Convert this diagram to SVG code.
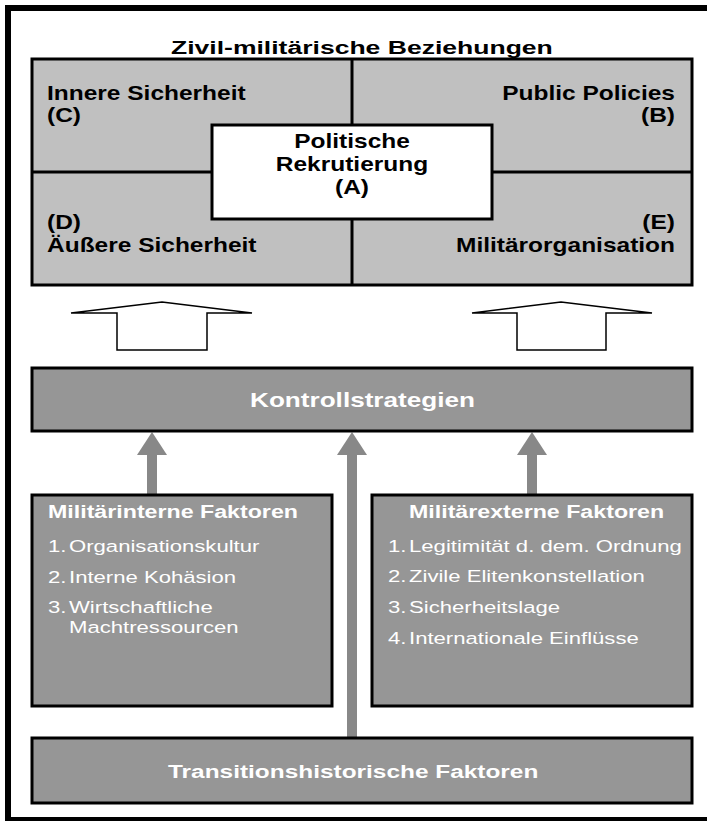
<svg xmlns="http://www.w3.org/2000/svg" width="707" height="821" viewBox="0 0 707 821">
<style>
.b{font-family:"Liberation Sans",Arial,sans-serif;font-weight:bold;}
.r{font-family:"Liberation Sans",Arial,sans-serif;font-weight:normal;font-size:16.5px;}
.q{font-size:19.5px;}
.h{font-size:18px;}
.blk{fill:#000;}
.wht{fill:#fff;}
.box{stroke:#000;stroke-width:3;}
.light{fill:#c0c0c0;}
.dark{fill:#969696;}
.open{fill:#fff;stroke:#000;stroke-width:1.5;stroke-linejoin:miter;}
.solid{fill:#888;}
</style>
<rect width="707" height="821" fill="#fff"/>
<rect id="frame" x="8" y="8" width="712" height="812" fill="none" stroke="#000" stroke-width="6"/>

<g id="title">
<text class="b blk" font-size="18.6" transform="matrix(1.427 0 0 1 171 54)">Zivil-militärische Beziehungen</text>
</g>

<g id="quad">
<rect class="box light" x="32" y="59" width="660" height="226"/>
<line x1="352" y1="59" x2="352" y2="285" stroke="#000" stroke-width="3"/>
<line x1="32" y1="172" x2="692" y2="172" stroke="#000" stroke-width="3"/>
<text class="b q blk" transform="matrix(1.256 0 0 1 47 100)">Innere Sicherheit</text>
<text class="b q blk" transform="matrix(1.256 0 0 1 47 122)">(C)</text>
<text class="b q blk" text-anchor="end" transform="matrix(1.256 0 0 1 675 100)">Public Policies</text>
<text class="b q blk" text-anchor="end" transform="matrix(1.256 0 0 1 675 122)">(B)</text>
<text class="b q blk" transform="matrix(1.256 0 0 1 47 229)">(D)</text>
<text class="b q blk" transform="matrix(1.256 0 0 1 47 252)">Äußere Sicherheit</text>
<text class="b q blk" text-anchor="end" transform="matrix(1.256 0 0 1 675 229)">(E)</text>
<text class="b q blk" text-anchor="end" transform="matrix(1.256 0 0 1 675 252)">Militärorganisation</text>
</g>

<g id="center">
<rect class="box" fill="#fff" x="212" y="125" width="280" height="94"/>
<text class="b q blk" text-anchor="middle" transform="matrix(1.256 0 0 1 352 148)">Politische</text>
<text class="b q blk" text-anchor="middle" transform="matrix(1.256 0 0 1 352 171)">Rekrutierung</text>
<text class="b q blk" text-anchor="middle" transform="matrix(1.256 0 0 1 352 194)">(A)</text>
</g>

<g id="connectors">
<polygon class="open" points="117,350 117,313 71,313 162,302 252,313 207,313 207,350"/>
<polygon class="open" points="517,350 517,313 472,313 561,302 652,313 606,313 606,350"/>
<rect class="solid" x="147" y="454" width="10" height="41"/>
<polygon class="solid" points="152,432 137,455 167,455"/>
<rect class="solid" x="347" y="454" width="10" height="283"/>
<polygon class="solid" points="352,432 337,455 367,455"/>
<rect class="solid" x="527" y="454" width="10" height="41"/>
<polygon class="solid" points="532,432 517,455 547,455"/>
</g>

<g id="kontroll">
<rect class="box dark" x="32" y="368" width="660" height="63"/>
<text class="b q wht" text-anchor="middle" transform="matrix(1.34 0 0 1 362.5 407)">Kontrollstrategien</text>
</g>

<g id="intern">
<rect class="box dark" x="32" y="495" width="300" height="211"/>
<text class="b h wht" transform="matrix(1.289 0 0 1 48 518)">Militärinterne Faktoren</text>
<text class="r wht" transform="matrix(1.34 0 0 1 48 552)">1.</text>
<text class="r wht" transform="matrix(1.34 0 0 1 69 552)">Organisationskultur</text>
<text class="r wht" transform="matrix(1.34 0 0 1 48 583)">2.</text>
<text class="r wht" transform="matrix(1.34 0 0 1 69 583)">Interne Kohäsion</text>
<text class="r wht" transform="matrix(1.34 0 0 1 48 613)">3.</text>
<text class="r wht" transform="matrix(1.34 0 0 1 69 613)">Wirtschaftliche</text>
<text class="r wht" transform="matrix(1.34 0 0 1 69 633)">Machtressourcen</text>
</g>

<g id="extern">
<rect class="box dark" x="372" y="495" width="320" height="211"/>
<text class="b h wht" transform="matrix(1.289 0 0 1 409 518)">Militärexterne Faktoren</text>
<text class="r wht" transform="matrix(1.34 0 0 1 388 552)">1.</text>
<text class="r wht" transform="matrix(1.34 0 0 1 409 552)">Legitimität d. dem. Ordnung</text>
<text class="r wht" transform="matrix(1.34 0 0 1 388 582)">2.</text>
<text class="r wht" transform="matrix(1.34 0 0 1 409 582)">Zivile Elitenkonstellation</text>
<text class="r wht" transform="matrix(1.34 0 0 1 388 613)">3.</text>
<text class="r wht" transform="matrix(1.34 0 0 1 409 613)">Sicherheitslage</text>
<text class="r wht" transform="matrix(1.34 0 0 1 388 644)">4.</text>
<text class="r wht" transform="matrix(1.34 0 0 1 409 644)">Internationale Einflüsse</text>
</g>

<g id="transition">
<rect class="box dark" x="32" y="738" width="660" height="65"/>
<text class="b wht" font-size="18.5" transform="matrix(1.32 0 0 1 168 778)">Transitionshistorische Faktoren</text>
</g>
</svg>
